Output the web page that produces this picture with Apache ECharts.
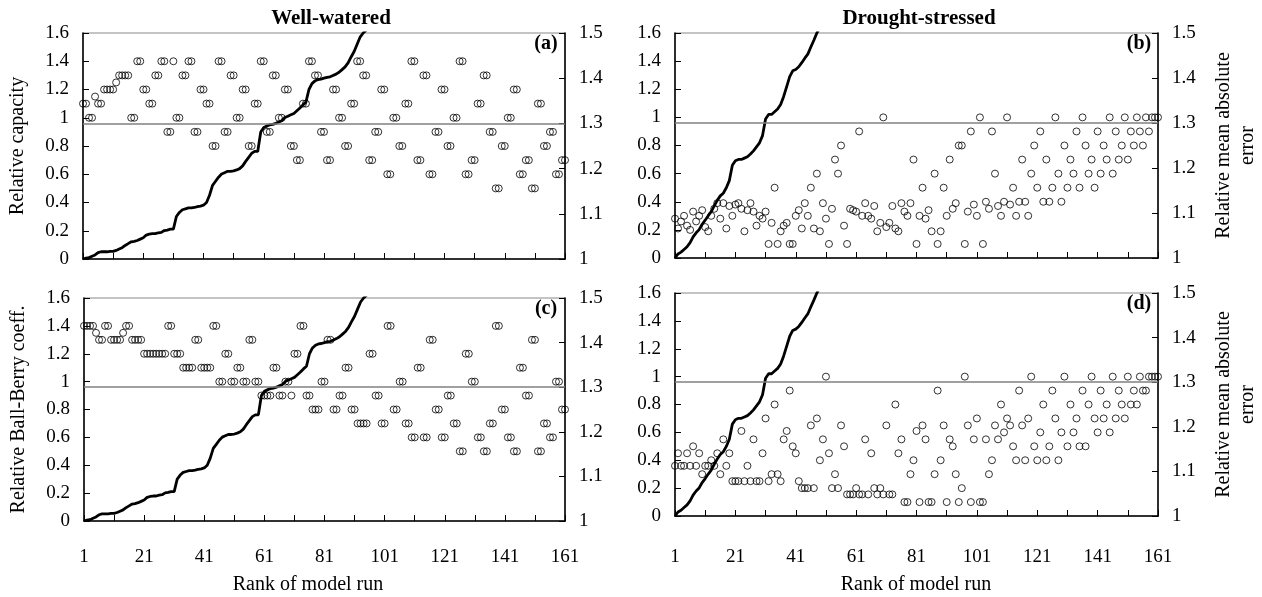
<!DOCTYPE html>
<html><head><meta charset="utf-8">
<script src="https://cdn.jsdelivr.net/npm/echarts@6/dist/echarts.min.js"></script>
<style>html,body{margin:0;padding:0;background:#fff}#c{width:1262px;height:597px}</style>
</head><body><div id="c"></div>
<script>
// Rank of model run (categories)
const ranks = Array.from({length:161}, (_, i) => i + 1);

// Relative capacity, well-watered (panel a)
const capWW = [
1.1,1.1,1.0,1.0,1.15,1.1,1.1,1.2,1.2,1.2,
1.2,1.25,1.3,1.3,1.3,1.3,1.0,1.0,1.4,1.4,
1.2,1.2,1.1,1.1,1.3,1.3,1.4,1.4,0.9,0.9,
1.4,1.0,1.0,1.3,1.3,1.4,1.4,0.9,0.9,1.2,
1.2,1.1,1.1,0.8,0.8,1.4,1.4,0.9,0.9,1.3,
1.3,1.0,1.0,1.2,1.2,0.8,0.8,1.1,1.1,1.4,
1.4,0.9,0.9,1.3,1.3,1.0,1.0,1.2,1.2,0.8,
0.8,0.7,0.7,1.1,1.1,1.4,1.4,1.3,1.3,0.9,
0.9,0.7,0.7,1.2,1.2,1.0,1.0,0.8,0.8,1.1,
1.1,1.4,1.4,1.3,1.3,0.7,0.7,0.9,0.9,1.2,
1.2,0.6,0.6,1.0,1.0,0.8,0.8,1.1,1.1,1.4,
1.4,0.7,0.7,1.3,1.3,0.6,0.6,0.9,0.9,1.2,
1.2,0.8,0.8,1.0,1.0,1.4,1.4,0.6,0.6,0.7,
0.7,1.1,1.1,1.3,1.3,0.9,0.9,0.5,0.5,0.8,
0.8,1.0,1.0,1.2,1.2,0.6,0.6,0.7,0.7,0.5,
0.5,1.1,1.1,0.8,0.8,0.9,0.9,0.6,0.6,0.7,
0.7];

// Relative capacity, drought-stressed (panel b)
const capDS = [
0.28,0.21,0.26,0.30,0.23,0.20,0.33,0.26,0.30,0.34,
0.22,0.19,0.30,0.35,0.39,0.28,0.39,0.21,0.37,0.30,
0.38,0.39,0.35,0.19,0.34,0.39,0.33,0.23,0.30,0.28,
0.33,0.10,0.25,0.50,0.10,0.19,0.23,0.25,0.10,0.10,
0.30,0.34,0.21,0.39,0.30,0.50,0.21,0.60,0.19,0.39,
0.28,0.10,0.35,0.70,0.60,0.80,0.23,0.10,0.35,0.34,
0.33,0.90,0.30,0.39,0.30,0.28,0.37,0.19,0.25,1.00,
0.22,0.25,0.37,0.21,0.19,0.39,0.33,0.30,0.39,0.70,
0.10,0.30,0.50,0.28,0.34,0.19,0.60,0.10,0.19,0.50,
0.30,0.70,0.35,0.39,0.80,0.80,0.10,0.33,0.90,0.38,
0.30,1.00,0.10,0.40,0.35,0.90,0.60,0.37,0.30,0.40,
1.00,0.38,0.50,0.30,0.40,0.70,0.40,0.30,0.60,0.80,
0.50,0.90,0.40,0.70,0.40,0.50,1.00,0.60,0.40,0.80,
0.50,0.70,0.60,0.90,0.50,1.00,0.80,0.60,0.70,0.50,
0.90,0.60,0.80,0.70,1.00,0.60,0.90,0.70,0.80,1.00,
0.70,0.90,0.80,1.00,0.90,0.80,1.00,0.90,1.00,1.00,
1.00];

// Relative Ball-Berry coeff., well-watered (panel c)
const bbWW = [
1.4,1.4,1.4,1.4,1.35,1.3,1.3,1.4,1.4,1.3,
1.3,1.3,1.3,1.35,1.4,1.4,1.3,1.3,1.3,1.3,
1.2,1.2,1.2,1.2,1.2,1.2,1.2,1.2,1.4,1.4,
1.2,1.2,1.2,1.1,1.1,1.1,1.1,1.3,1.3,1.1,
1.1,1.1,1.1,1.4,1.4,1.0,1.0,1.2,1.2,1.0,
1.0,1.1,1.1,1.0,1.0,1.3,1.3,1.0,1.0,0.9,
0.9,0.9,0.9,1.1,1.1,0.9,0.9,1.0,1.0,0.9,
1.2,1.2,1.4,1.4,0.9,0.9,0.8,0.8,0.8,1.0,
1.0,1.3,1.3,0.8,0.8,0.9,0.9,1.1,1.1,0.8,
0.8,0.7,0.7,0.7,0.7,1.2,1.2,0.9,0.9,0.7,
0.7,1.4,1.4,0.8,0.8,1.0,1.0,0.7,0.7,0.6,
0.6,1.1,1.1,0.6,0.6,1.3,1.3,0.8,0.8,0.6,
0.6,0.9,0.9,0.7,0.7,0.5,0.5,1.2,1.2,1.0,
1.0,0.6,0.6,0.5,0.5,0.7,0.7,1.4,1.4,0.8,
0.8,0.6,0.6,0.5,0.5,1.1,1.1,0.9,0.9,1.3,
1.3,0.5,0.5,0.7,0.7,0.6,0.6,1.0,1.0,0.8,
0.8];

// Relative Ball-Berry coeff., drought-stressed (panel d)
const bbDS = [
0.36,0.45,0.36,0.36,0.45,0.36,0.50,0.36,0.45,0.30,
0.36,0.36,0.40,0.36,0.45,0.30,0.55,0.36,0.45,0.25,
0.25,0.25,0.61,0.25,0.36,0.25,0.55,0.25,0.25,0.45,
0.70,0.25,0.30,0.80,0.30,0.25,0.55,0.61,0.90,0.50,
0.45,0.25,0.20,0.20,0.20,0.65,0.20,0.70,0.40,0.55,
1.00,0.45,0.20,0.30,0.20,0.65,0.50,0.155,0.155,0.155,
0.20,0.155,0.155,0.55,0.155,0.45,0.20,0.155,0.20,0.155,
0.65,0.155,0.155,0.80,0.45,0.55,0.10,0.10,0.30,0.40,
0.61,0.10,0.65,0.55,0.10,0.10,0.30,0.90,0.40,0.65,
0.10,0.55,0.50,0.30,0.10,0.20,1.00,0.65,0.10,0.55,
0.70,0.10,0.10,0.55,0.30,0.40,0.65,0.55,0.80,0.60,
0.70,0.65,0.50,0.40,0.90,0.65,0.40,0.70,1.00,0.50,
0.40,0.60,0.80,0.40,0.50,0.90,0.70,0.40,0.60,1.00,
0.50,0.80,0.60,0.70,0.50,0.90,0.50,0.80,1.00,0.70,
0.60,0.90,0.70,0.80,0.60,1.00,0.70,0.90,0.80,0.70,
1.00,0.80,0.90,0.80,1.00,0.90,0.90,1.00,1.00,1.00,
1.00];

// Relative mean absolute error (sorted), well-watered
const maeWW = [
1.000,1.002,1.003,1.006,1.009,1.014,1.016,1.016,1.016,1.017,
1.017,1.019,1.022,1.025,1.030,1.034,1.038,1.039,1.041,1.044,
1.047,1.053,1.055,1.056,1.056,1.058,1.059,1.063,1.064,1.066,
1.066,1.094,1.103,1.109,1.111,1.113,1.113,1.114,1.116,1.117,
1.119,1.125,1.141,1.163,1.172,1.181,1.188,1.191,1.194,1.194,
1.195,1.197,1.200,1.206,1.216,1.225,1.234,1.238,1.238,1.281,
1.291,1.294,1.297,1.298,1.300,1.303,1.306,1.313,1.316,1.319,
1.322,1.328,1.334,1.341,1.347,1.375,1.388,1.394,1.397,1.398,
1.400,1.402,1.403,1.406,1.409,1.413,1.419,1.425,1.434,1.447,
1.459,1.475,1.491,1.500,1.506];

// Relative mean absolute error (sorted), drought-stressed
const maeDS = [
1.000,1.009,1.013,1.019,1.025,1.034,1.047,1.056,1.063,1.075,
1.084,1.094,1.103,1.116,1.128,1.138,1.144,1.156,1.172,1.206,
1.216,1.219,1.219,1.222,1.225,1.231,1.238,1.247,1.256,1.272,
1.309,1.319,1.319,1.325,1.331,1.341,1.359,1.381,1.403,1.416,
1.419,1.425,1.434,1.444,1.453,1.469,1.484,1.500,1.513];

const maeThreshold = 1.3;
const leftTicks = {min:0, max:1.6, interval:0.2};
const rightTicks = {min:1, max:1.5, interval:0.1};
const colTitles = ['Well-watered', 'Drought-stressed'];
const panelLetters = ['(a)', '(b)', '(c)', '(d)'];
const leftNames = ['Relative capacity', '', 'Relative Ball-Berry coeff.', ''];
const rightNames = ['', 'Relative mean absolute\nerror', '', 'Relative mean absolute\nerror'];
const xName = 'Rank of model run';

const FONT = 'Liberation Serif';
const panels = [
  {grid:{left:83, top:33, width:482, height:226}, scatter:capWW, mae:maeWW, bottom:false},
  {grid:{left:675, top:33, width:483, height:225}, scatter:capDS, mae:maeDS, bottom:false},
  {grid:{left:84, top:298, width:481, height:223}, scatter:bbWW, mae:maeWW, bottom:true, labelMargin:27, nameX:308},
  {grid:{left:675, top:293, width:483, height:223}, scatter:bbDS, mae:maeDS, bottom:true, labelMargin:32, nameX:916}
];

const grid = [], xAxis = [], yAxis = [], series = [], graphic = [];
panels.forEach((p, i) => {
  grid.push(Object.assign({show:true, borderColor:'#8a8a8a', borderWidth:1.2, containLabel:false, outerBoundsMode:'none'}, p.grid));
  xAxis.push({
    type:'category', gridIndex:i, data:ranks, boundaryGap:false,
    axisLine:{show:true, lineStyle:{color:'#000', width:1.5}},
    axisTick:{show:true, inside:true, length:6, interval:(idx)=>idx % 10 === 0, lineStyle:{color:'#000', width:1}},
    axisLabel:{show:p.bottom, interval:(idx)=>idx % 20 === 0, color:'#000', fontFamily:FONT, fontSize:19, margin:p.labelMargin || 20},
    splitLine:{show:false}
  });
  yAxis.push({
    type:'value', gridIndex:i, position:'left', min:leftTicks.min, max:leftTicks.max, interval:leftTicks.interval,
    axisLine:{show:true, lineStyle:{color:'#000', width:1.5}},
    axisTick:{show:true, inside:true, length:6, lineStyle:{color:'#000'}},
    axisLabel:{color:'#000', fontFamily:FONT, fontSize:19, margin:14},
    splitLine:{show:false},
    name:leftNames[i], nameLocation:'middle', nameGap:55, nameRotate:90,
    nameTextStyle:{color:'#000', fontFamily:FONT, fontSize:20}
  });
  yAxis.push({
    type:'value', gridIndex:i, position:'right', min:rightTicks.min, max:rightTicks.max, interval:rightTicks.interval,
    axisLine:{show:true, lineStyle:{color:'#000', width:1.5}},
    axisTick:{show:true, inside:true, length:6, lineStyle:{color:'#000'}},
    axisLabel:{color:'#000', fontFamily:FONT, fontSize:19, margin:14},
    splitLine:{show:false},
    name:rightNames[i], nameLocation:'middle', nameGap:54, nameRotate:90,
    nameTextStyle:{color:'#000', fontFamily:FONT, fontSize:20, lineHeight:24}
  });
  series.push({
    type:'scatter', xAxisIndex:i, yAxisIndex:2*i, data:p.scatter,
    symbol:'circle', symbolSize:7,
    itemStyle:{color:'rgba(0,0,0,0)', borderColor:'#000', borderWidth:1},
    z:3
  });
  series.push({
    type:'line', xAxisIndex:i, yAxisIndex:2*i+1, data:p.mae, showSymbol:false, symbol:'none',
    lineStyle:{color:'#000', width:2.8}, clip:true, z:4,
    markLine:{silent:true, symbol:'none', label:{show:false},
      lineStyle:{color:'#808080', width:1.6, type:'solid'},
      data:[{yAxis:maeThreshold}]}
  });
  graphic.push({type:'text', x:p.grid.left + p.grid.width - 19, y:p.grid.top + 11,
    style:{text:panelLetters[i], font:'bold 20px "Liberation Serif"', fill:'#000', align:'center', verticalAlign:'middle'}});
  if (p.bottom) {
    graphic.push({type:'text', x:p.nameX, y:585,
      style:{text:xName, font:'20px "Liberation Serif"', fill:'#000', align:'center', verticalAlign:'middle'}});
  }
});
graphic.push({type:'text', x:331, y:19, style:{text:colTitles[0], font:'bold 21px "Liberation Serif"', fill:'#000', align:'center', verticalAlign:'middle'}});
graphic.push({type:'text', x:919, y:19, style:{text:colTitles[1], font:'bold 21px "Liberation Serif"', fill:'#000', align:'center', verticalAlign:'middle'}});

const chart = echarts.init(document.getElementById('c'), null, {renderer:'canvas'});
chart.setOption({animation:false, backgroundColor:'#fff', grid, xAxis, yAxis, series, graphic});
</script></body></html>
